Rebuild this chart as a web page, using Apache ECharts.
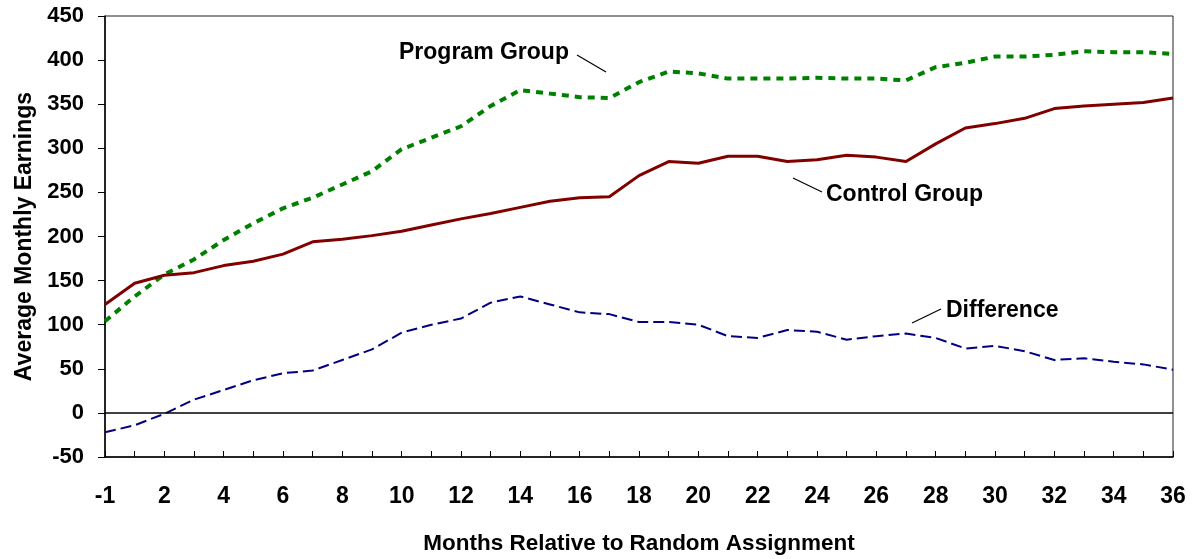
<!DOCTYPE html>
<html>
<head>
<meta charset="utf-8">
<script src="https://cdn.jsdelivr.net/npm/echarts@6/dist/echarts.min.js"></script>
<style>
  html, body { margin: 0; padding: 0; background: #fff; }
  #main { width: 1196px; height: 559px; }
</style>
</head>
<body>
<div id="main"></div>
<script>
var months = ['-1', '1', '2', '3', '4', '5', '6', '7', '8', '9', '10', '11', '12', '13', '14', '15', '16', '17', '18',
  '19', '20', '21', '22', '23', '24', '25', '26', '27', '28', '29', '30', '31', '32', '33', '34', '35', '36'];

var programGroup = [104, 132, 157, 174, 196, 215, 232, 244, 259, 274, 299, 312, 325, 348, 366, 362, 358, 357, 375,
  387, 385, 379, 379, 379, 380, 379, 379, 377, 392, 397, 404, 404, 406, 410, 409, 409, 407];

var controlGroup = [123, 147, 156, 159, 167, 172, 180, 194, 197, 201, 206, 213, 220, 226, 233, 240, 244, 245, 269,
  285, 283, 291, 291, 285, 287, 292, 290, 285, 305, 323, 328, 334, 345, 348, 350, 352, 357];

var difference = [-22, -14, -1, 15, 26, 37, 45, 48, 60, 72, 91, 100, 107, 125, 132, 123, 114, 112, 103,
  103, 100, 87, 85, 94, 92, 83, 87, 90, 85, 73, 76, 70, 60, 62, 58, 55, 49];

var yMin = -50, yMax = 450, yStep = 50;

var font = 'Liberation Sans, Arial, sans-serif';
var myChart = echarts.init(document.getElementById('main'));

myChart.setOption({
  animation: false,
  backgroundColor: '#fff',
  grid: {
    left: 105,
    right: 23,
    top: 16,
    bottom: 102,
    outerBoundsMode: 'none',
    containLabel: false,
    show: true,
    borderColor: '#222',
    borderWidth: 1
  },
  xAxis: {
    type: 'category',
    boundaryGap: false,
    data: months,
    name: 'Months Relative to Random Assignment',
    nameLocation: 'middle',
    nameGap: 75,
    nameTextStyle: { fontFamily: font, fontWeight: 'bold', fontSize: 22.5, color: '#000' },
    axisLine: { onZero: false, lineStyle: { color: '#000', width: 1.5 } },
    axisTick: { show: true, inside: true, length: 6, interval: 0, alignWithLabel: true, lineStyle: { color: '#000' } },
    axisLabel: { interval: 1, margin: 28, fontFamily: font, fontWeight: 'bold', fontSize: 23, color: '#000' },
    splitLine: { show: false }
  },
  yAxis: {
    type: 'value',
    min: yMin,
    max: yMax,
    interval: yStep,
    name: 'Average Monthly Earnings',
    nameLocation: 'middle',
    nameGap: 68,
    nameTextStyle: { fontFamily: font, fontWeight: 'bold', fontSize: 23, color: '#000' },
    axisLine: { show: true, lineStyle: { color: '#000', width: 1.5 } },
    axisTick: { show: true, length: 7, lineStyle: { color: '#000' } },
    axisLabel: { margin: 21, fontFamily: font, fontWeight: 'bold', fontSize: 22, color: '#000' },
    splitLine: { show: false }
  },
  series: [{
      name: 'Program Group',
      type: 'line',
      data: programGroup,
      symbol: 'none',
      lineStyle: { color: '#008000', width: 4, type: [7, 6] },
      z: 3
    },
    {
      name: 'Control Group',
      type: 'line',
      data: controlGroup,
      symbol: 'none',
      lineStyle: { color: '#800000', width: 3, type: 'solid' },
      z: 4
    },
    {
      name: 'Difference',
      type: 'line',
      data: difference,
      symbol: 'none',
      lineStyle: { color: '#000080', width: 2, type: [11, 5] },
      z: 2,
      markLine: {
        silent: true,
        symbol: 'none',
        label: { show: false },
        lineStyle: { color: '#000', width: 1.5, type: 'solid' },
        data: [{ yAxis: 0 }]
      }
    }
  ],
  graphic: [
    // 标注文字和引线
    { type: 'text', x: 399, y: 53, style: { text: 'Program Group', font: 'bold 23px ' + font, fill: '#000', verticalAlign: 'middle' } },
    { type: 'line', shape: { x1: 577, y1: 55, x2: 606, y2: 72 }, style: { stroke: '#000', lineWidth: 1.2 } },
    { type: 'text', x: 826, y: 195, style: { text: 'Control Group', font: 'bold 23px ' + font, fill: '#000', verticalAlign: 'middle' } },
    { type: 'line', shape: { x1: 793, y1: 178, x2: 822, y2: 192 }, style: { stroke: '#000', lineWidth: 1.2 } },
    { type: 'text', x: 946, y: 311, style: { text: 'Difference', font: 'bold 23px ' + font, fill: '#000', verticalAlign: 'middle' } },
    { type: 'line', shape: { x1: 912, y1: 323, x2: 941, y2: 309 }, style: { stroke: '#000', lineWidth: 1.2 } }
  ]
});
</script>
</body>
</html>
